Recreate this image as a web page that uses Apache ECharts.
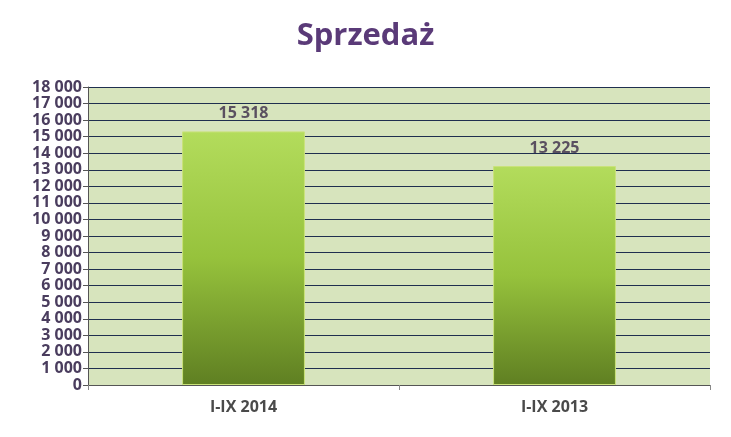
<!DOCTYPE html><html><head><meta charset="utf-8"><script src="https://cdn.jsdelivr.net/npm/echarts@6/dist/echarts.min.js"></script></head><body style="margin:0;background:#fff"><div id="c" style="width:731px;height:437px"></div><script>
const categories=['I-IX 2014','I-IX 2013'];
const values=[15318,13225];
const ch=echarts.init(document.getElementById('c'));
ch.setOption({
 title:{text:'Sprzedaż',left:'center',top:16,textStyle:{fontFamily:'Open Sans',fontWeight:'bold',fontSize:31,color:'#5a3a78'}},
 grid:{left:88,right:21,top:87,bottom:52,show:true,backgroundColor:'#d7e4bd',borderWidth:0},
 xAxis:{type:'category',data:categories,axisLine:{lineStyle:{color:'#555'}},axisTick:{show:true,lineStyle:{color:'#888'}},
  axisLabel:{color:'#4a4a4a',fontWeight:'bold',fontSize:16,fontFamily:'Open Sans',margin:14}},
 yAxis:{type:'value',min:0,max:18000,interval:1000,axisLine:{show:true,lineStyle:{color:'#555'}},axisTick:{show:true,lineStyle:{color:'#555'}},
  splitLine:{lineStyle:{color:'#1f2f4f',width:1}},
  axisLabel:{color:'#4a3d5e',fontWeight:'bold',fontSize:16,fontFamily:'Open Sans',margin:6,formatter:v=>v>=1000?Math.floor(v/1000)+' '+String(v%1000).padStart(3,'0'):v}},
 series:[{type:'bar',data:values,barWidth:'39.5%',
  itemStyle:{borderColor:'#c9e27a',borderWidth:1,color:new echarts.graphic.LinearGradient(0,0,0,1,[{offset:0,color:'#b3dc5c'},{offset:0.5,color:'#96c23c'},{offset:1,color:'#5f7f22'}])},
  label:{show:true,position:'top',distance:10,color:'#5a5060',fontWeight:'bold',fontSize:16,fontFamily:'Open Sans',formatter:p=>String(p.value).replace(/\B(?=(\d{3})+(?!\d))/g,' ')}}]
});
</script></body></html>
